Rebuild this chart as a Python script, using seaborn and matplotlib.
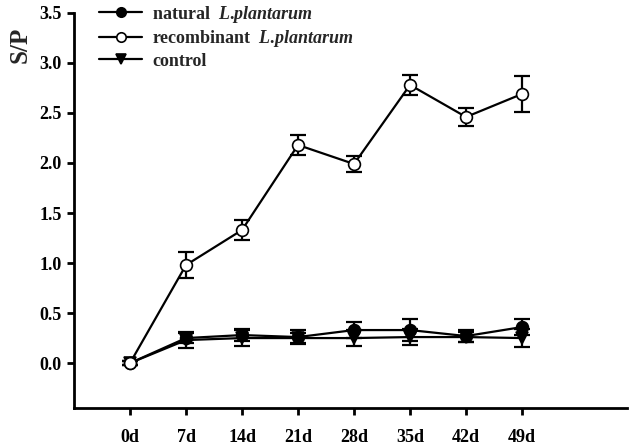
import matplotlib
matplotlib.use("Agg")
import matplotlib.pyplot as plt
import pandas as pd
import seaborn as sns

# ── Data ─────────────────────────────────────────────────────────────────────
days = [0, 7, 14, 21, 28, 35, 42, 49]
day_labels = ["0d", "7d", "14d", "21d", "28d", "35d", "42d", "49d"]

natural = [0.00, 0.25, 0.28, 0.26, 0.33, 0.33, 0.27, 0.36]
natural_err = [0.02, 0.05, 0.06, 0.07, 0.08, 0.11, 0.06, 0.08]

recombinant = [0.00, 0.98, 1.33, 2.18, 1.99, 2.78, 2.46, 2.69]
recombinant_err = [0.02, 0.13, 0.10, 0.10, 0.08, 0.10, 0.09, 0.18]

control = [0.00, 0.23, 0.25, 0.25, 0.25, 0.26, 0.26, 0.25]
control_err = [0.02, 0.08, 0.08, 0.05, 0.08, 0.08, 0.05, 0.09]

y_ticks = [0.0, 0.5, 1.0, 1.5, 2.0, 2.5, 3.0, 3.5]

# ── Style ────────────────────────────────────────────────────────────────────
sns.set_theme(style="ticks")
plt.rcParams["font.family"] = ["Liberation Serif", "DejaVu Serif"]
plt.rcParams["font.weight"] = "bold"
plt.rcParams["mathtext.fontset"] = "custom"
plt.rcParams["mathtext.it"] = "Liberation Serif:italic:bold"
plt.rcParams["mathtext.rm"] = "Liberation Serif:bold"

fig = plt.figure(figsize=(6.3, 4.46), dpi=100)
ax = fig.add_axes([0.1175, 0.085, 0.8775, 0.886])

series = [
    ("natural  $\\it{L.\\!plantarum}$", natural, natural_err, "o", "black", 2),
    ("recombinant  $\\it{L.\\!plantarum}$", recombinant, recombinant_err, "o", "white", 3),
    ("control", control, control_err, "v", "black", 1),
]

for label, vals, errs, marker, face, z in series:
    df = pd.DataFrame({"day": days, "value": vals})
    ax.errorbar(days, vals, yerr=errs, fmt="none", ecolor="black",
                elinewidth=1.6, capsize=6, capthick=1.6, zorder=z)
    sns.lineplot(data=df, x="day", y="value", ax=ax, color="black",
                 linewidth=1.6, marker=marker, markersize=8.5,
                 markerfacecolor=face, markeredgecolor="black",
                 markeredgewidth=1.2, label=label, zorder=z + 1)

ax.set_xlim(-7, 62.1)
ax.set_ylim(-0.45, 3.5)
ax.set_xticks(days)
ax.set_xticklabels(day_labels)
ax.set_yticks(y_ticks)
ax.set_yticklabels([f"{v:.1f}" for v in y_ticks])
ax.set_xlabel("")
ax.set_ylabel("")

for s in ["top", "right"]:
    ax.spines[s].set_visible(False)
for s in ["left", "bottom"]:
    ax.spines[s].set_linewidth(2)
    ax.spines[s].set_color("black")
ax.tick_params(axis="both", direction="out", length=5, width=2,
               labelsize=13, colors="black")
ax.tick_params(axis="y", pad=4)
ax.tick_params(axis="x", pad=10)
for t in ax.get_xticklabels() + ax.get_yticklabels():
    t.set_fontweight("bold")

fig.text(0.032, 0.90, "S/P", rotation=90, fontsize=18, fontweight="bold",
         ha="center", va="center")

leg = ax.legend(loc="upper left", bbox_to_anchor=(0.032, 1.042), frameon=False,
                fontsize=13, handlelength=2.4, labelspacing=0.2,
                handletextpad=0.55, borderaxespad=0, markerscale=0.8)
for t in leg.get_texts():
    t.set_fontweight("bold")

fig.savefig("out.png", dpi=100, facecolor="white")
